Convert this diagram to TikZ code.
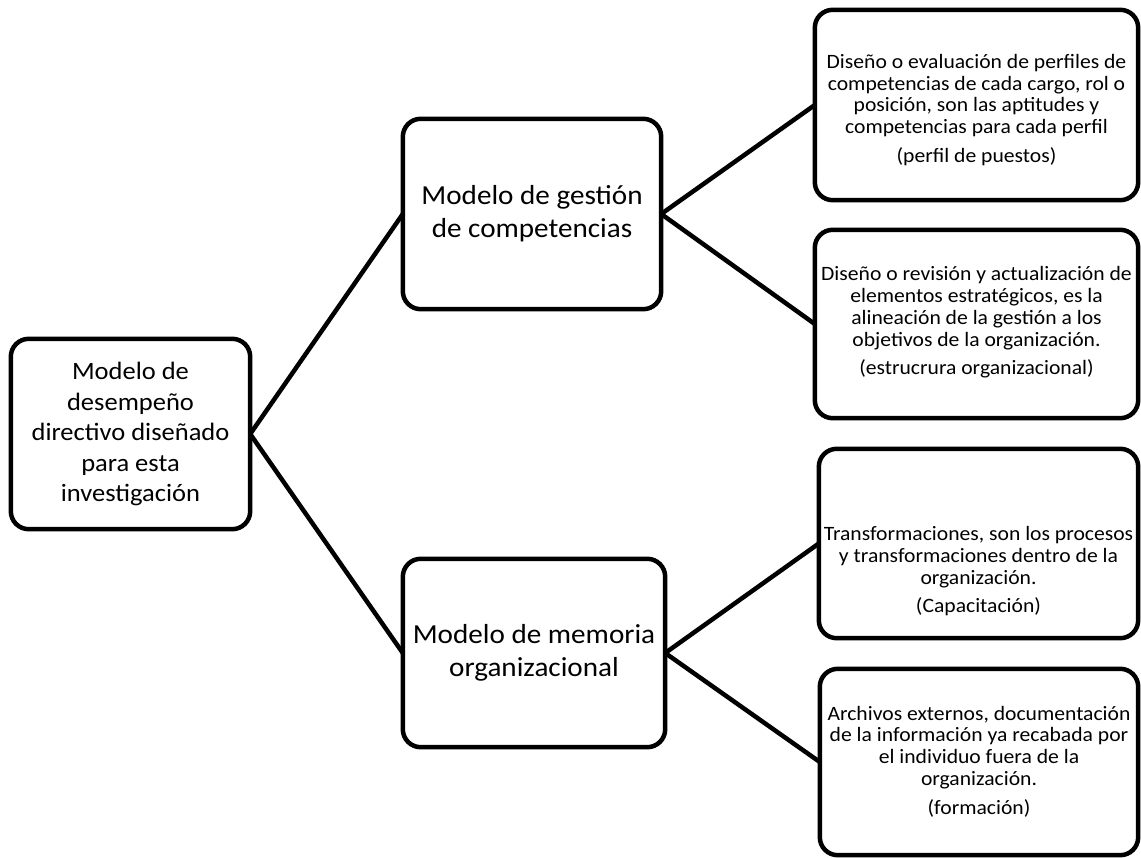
\documentclass[tikz,border=0pt]{standalone}
\usepackage{fontspec}
\setmainfont{Carlito}[FakeStretch=1.06]
\begin{document}
\begin{tikzpicture}[x=1pt,y=-1pt,
  box/.style={draw=black, line width=4.5pt, rounded corners=18pt, fill=white},
  conn/.style={draw=black, line width=4.5pt},
  bigtxt/.style={align=center, font=\fontsize{25}{30.5}\selectfont, inner sep=0pt},
  midtxt/.style={align=center, font=\fontsize{27.5}{33}\selectfont, inner sep=0pt},
  smalltxt/.style={align=center, font=\fontsize{20.4}{21.7}\selectfont, inner sep=0pt}]
\useasboundingbox (0,0) rectangle (1141,858);
% box frames (named, empty) 
\node[minimum width=239pt, minimum height=190pt, inner sep=0pt] (root) at (130.5,434) {};
\node[minimum width=258pt, minimum height=190pt, inner sep=0pt] (gc) at (532,214) {};
\node[minimum width=262pt, minimum height=188pt, inner sep=0pt] (mo) at (534,653) {};
\node[minimum width=323pt, minimum height=190pt, inner sep=0pt] (b1) at (976.5,105) {};
\node[minimum width=323pt, minimum height=188pt, inner sep=0pt] (b2) at (976.5,324) {};
\node[minimum width=319pt, minimum height=189pt, inner sep=0pt] (b3) at (978.5,543.5) {};
\node[minimum width=318pt, minimum height=186pt, inner sep=0pt] (b4) at (979,762) {};
\foreach \n in {root,gc,mo,b1,b2,b3,b4}{
  \path[box] (\n.north west) rectangle (\n.south east);
}
% connectors
\draw[conn] (root.east) -- (gc.west);
\draw[conn] (root.east) -- (mo.west);
\draw[conn] (gc.east) -- (b1.west);
\draw[conn] (gc.east) -- (b2.west);
\draw[conn] (mo.east) -- (b3.west);
\draw[conn] (mo.east) -- (b4.west);
% texts
\node[bigtxt] (troot) at (root.center) {Modelo de\\desempeño\\directivo diseñado\\para esta\\investigación};
\node[midtxt] (tgc) at (gc.center) {Modelo de gestión\\de competencias};
\node[midtxt] (tmo) at (mo.center) {Modelo de memoria\\organizacional};
\node[smalltxt] (tb1) at ([yshift=-5pt]b1.center) {Diseño o evaluación de perfiles de\\competencias de cada cargo, rol o\\posición, son las aptitudes y\\competencias para cada perfil\\[7pt](perfil de puestos)};
\node[smalltxt] (tb2) at ([yshift=1.5pt]b2.center) {Diseño o revisión y actualización de\\elementos estratégicos, es la\\alineación de la gestión a los\\objetivos de la organización.\\[7pt](estrucrura organizacional)};
\node[smalltxt] (tb3) at ([yshift=-28pt]b3.center) {Transformaciones, son los procesos\\y transformaciones dentro de la\\organización.\\[7pt](Capacitación)};
\node[smalltxt] (tb4) at ([yshift=0.5pt]b4.center) {Archivos externos, documentación\\de la información ya recabada por\\el individuo fuera de la\\organización.\\[7pt](formación)};
\end{tikzpicture}
\end{document}
